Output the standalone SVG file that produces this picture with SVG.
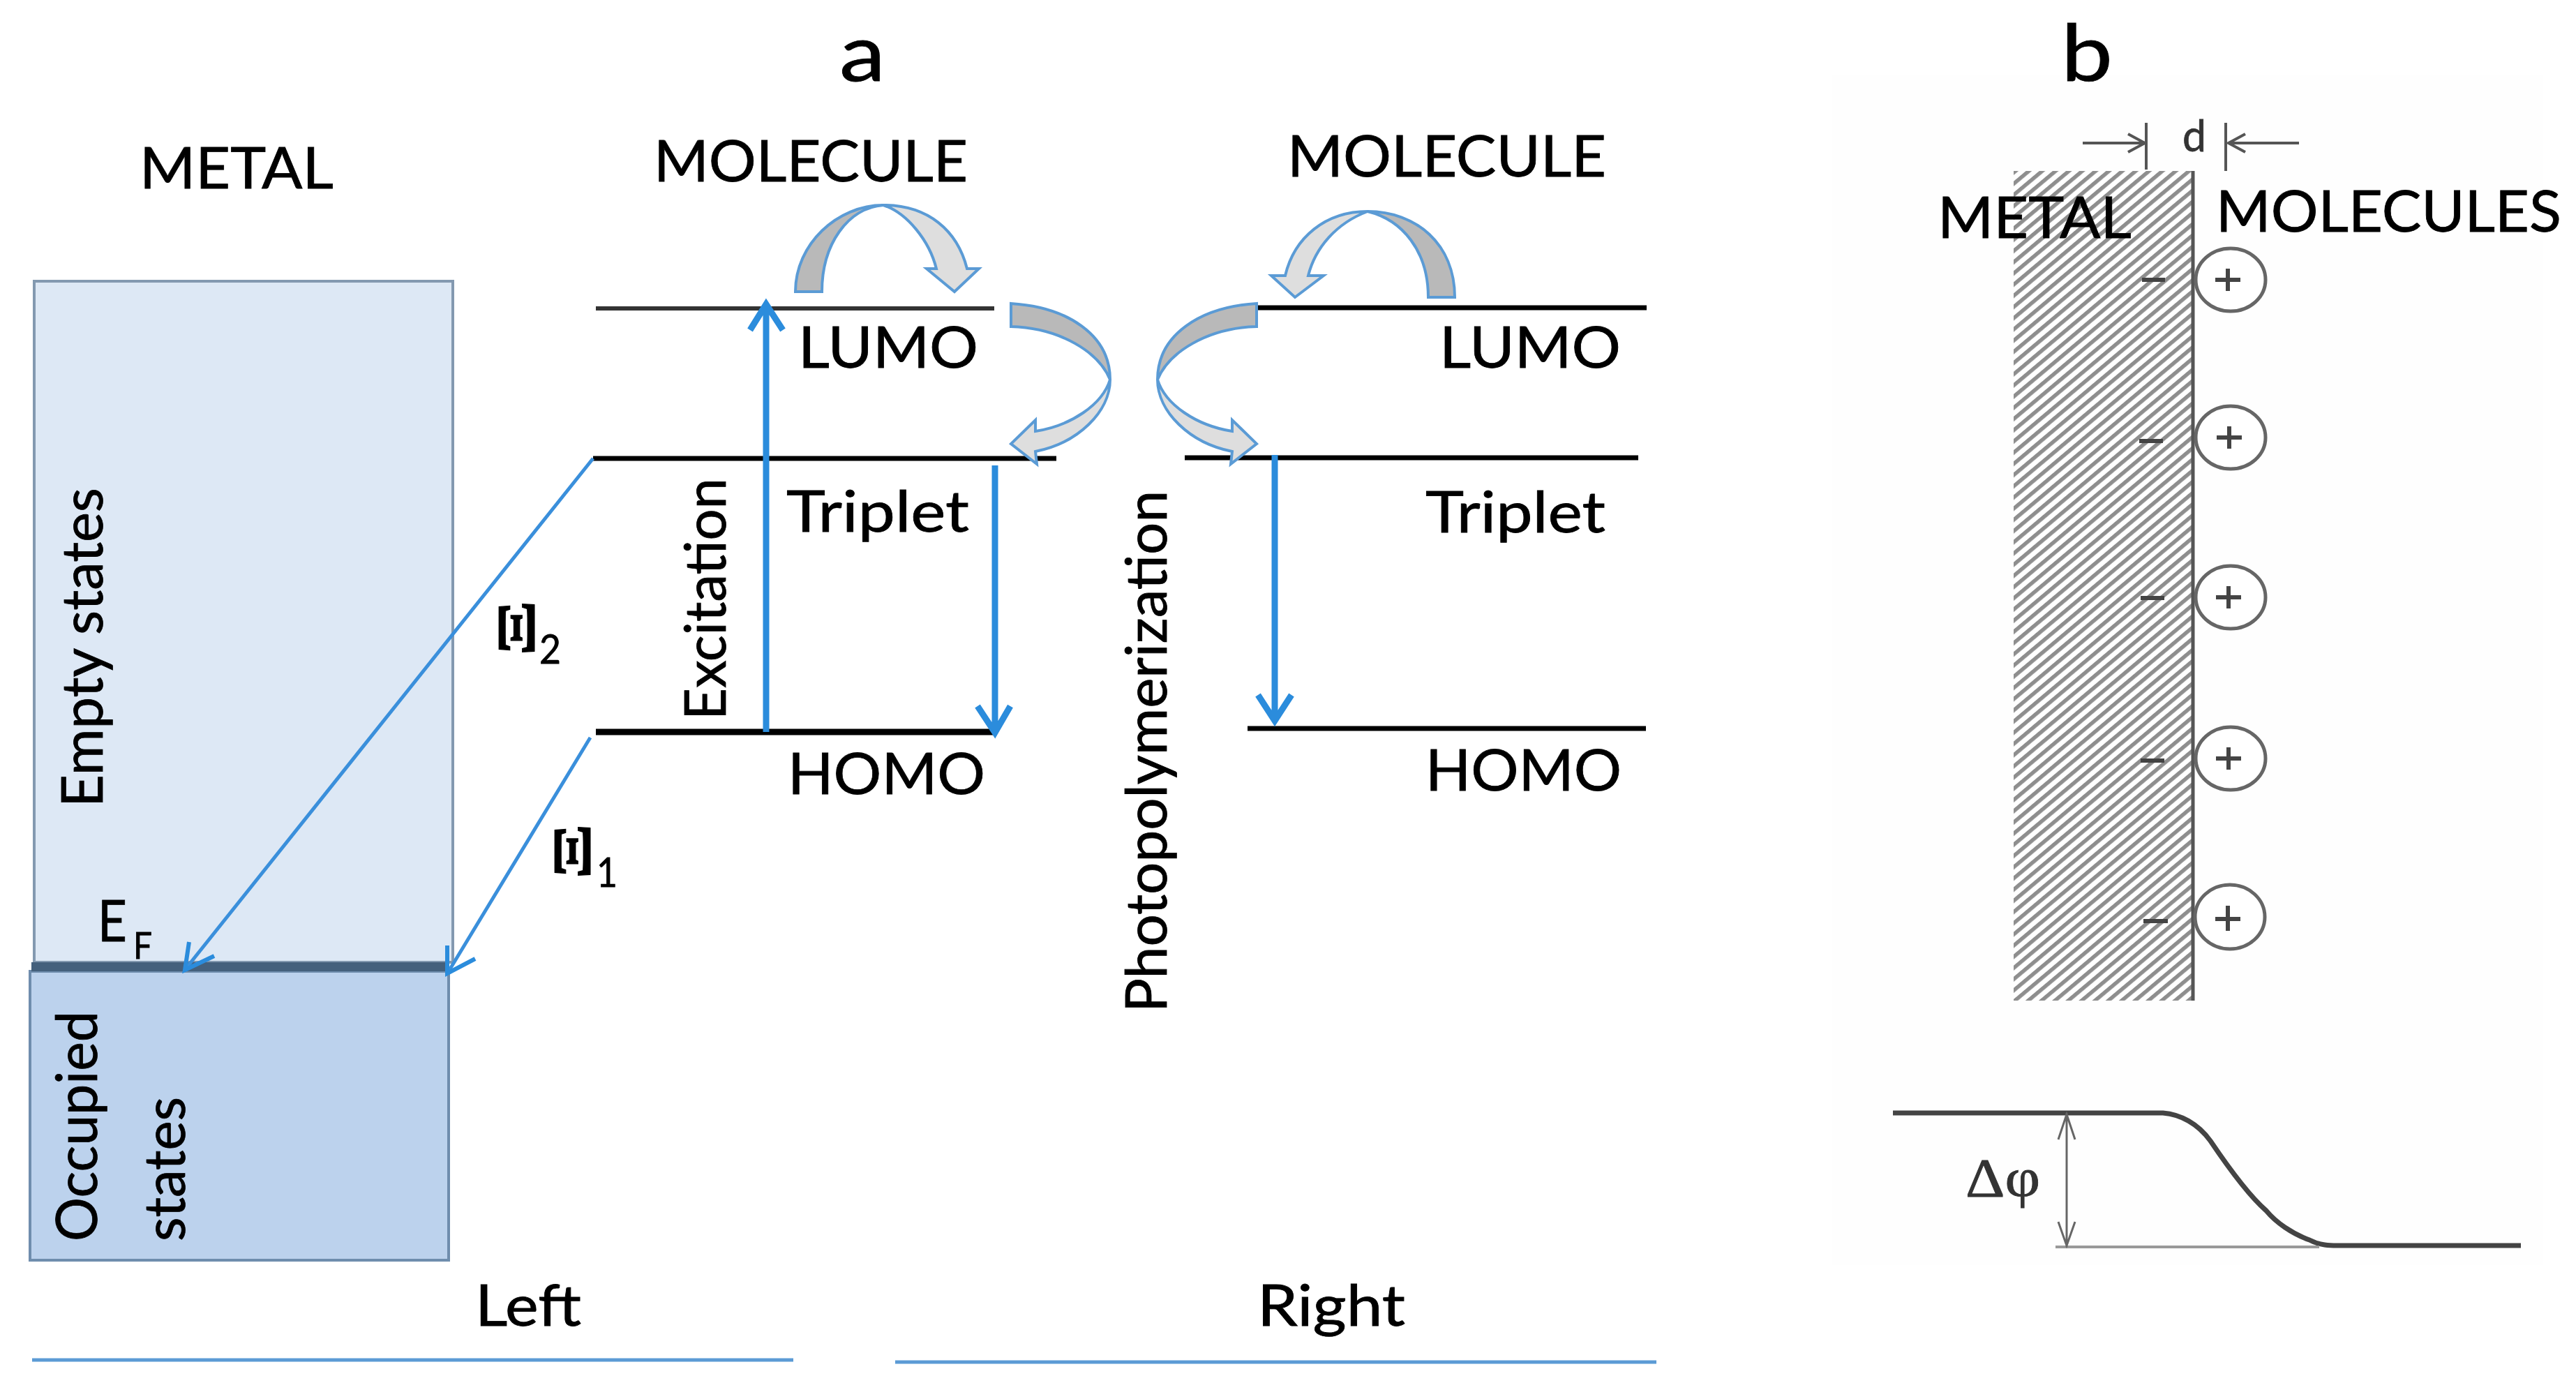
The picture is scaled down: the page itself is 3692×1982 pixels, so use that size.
<svg xmlns="http://www.w3.org/2000/svg" width="3692" height="1982" viewBox="0 0 3692 1982">
<style>
text{font-family:"Lato","Open Sans","Liberation Sans",sans-serif;fill:#000;stroke:#000;stroke-width:.8}
.lab{font-size:81px}
.serif{font-family:"Liberation Serif","DejaVu Serif",serif}
.lvl{stroke:#000;stroke-width:7;fill:none}
.thick{stroke:#2b8cdc;stroke-width:9;fill:none}
.thin{stroke:#3a8fdb;stroke-width:5;fill:none}
.head{stroke:#2b8cdc;stroke-width:9;fill:none;stroke-linejoin:miter}
.rule{stroke:#5b9bd5;stroke-width:5;fill:none}
.dark{fill:#b9b9b9;stroke:#5b9bd5;stroke-width:4;stroke-linejoin:miter}
.light{fill:#dedede;stroke:#5b9bd5;stroke-width:4;stroke-linejoin:miter}
.gline{stroke:#555;stroke-width:4;fill:none}
.ring{fill:#fff;stroke:#666;stroke-width:5}
.sign{stroke:#444;stroke-width:6;fill:none}
</style>
<defs>
<pattern id="hatch" width="12.3" height="12.3" patternUnits="userSpaceOnUse" patternTransform="rotate(-40)">
<rect width="12.3" height="12.3" fill="#fff"/>
<rect width="12.3" height="5.5" fill="#8e8e8e"/>
</pattern>
</defs>
<rect width="3692" height="1982" fill="#fff"/>
<rect x="2625" y="108" width="1020" height="1705" fill="#fefefe"/>

<g id="title-a"><text x="1203" y="116" font-size="112" textLength="66" lengthAdjust="spacingAndGlyphs">a</text></g>
<g id="title-b"><text x="2954" y="116" font-size="112" textLength="74" lengthAdjust="spacingAndGlyphs">b</text></g>

<g id="metal-left">
<rect x="49" y="403" width="600" height="976" fill="#dde8f5" stroke="#8399b0" stroke-width="4"/>
<rect x="43" y="1392" width="600" height="414" fill="#bcd2ed" stroke="#6f8dad" stroke-width="4"/>
<rect x="45" y="1379" width="593" height="13" fill="#44607c"/>
<text class="lab" x="200" y="270" textLength="278" lengthAdjust="spacingAndGlyphs">METAL</text>
<text class="lab" transform="translate(147,1157) rotate(-90)" textLength="458" lengthAdjust="spacingAndGlyphs">Empty states</text>
<text class="lab" transform="translate(139,1779) rotate(-90)" textLength="330" lengthAdjust="spacingAndGlyphs">Occupied</text>
<text class="lab" transform="translate(265,1779) rotate(-90)" textLength="207" lengthAdjust="spacingAndGlyphs">states</text>
<text class="lab" x="140" y="1349" textLength="42" lengthAdjust="spacingAndGlyphs">E</text>
<text x="191" y="1374" font-size="52" textLength="27" lengthAdjust="spacingAndGlyphs">F</text>
</g>

<g id="molecule-left">
<line class="lvl" x1="854" y1="442" x2="1425" y2="442" style="stroke:#333;stroke-width:6"/>
<line class="lvl" x1="850" y1="657" x2="1514" y2="657"/>
<line class="lvl" x1="854" y1="1049" x2="1424" y2="1049" style="stroke-width:9"/>
<text class="lab" x="937" y="260" textLength="450" lengthAdjust="spacingAndGlyphs">MOLECULE</text>
<text class="lab" x="1144" y="527" textLength="258" lengthAdjust="spacingAndGlyphs">LUMO</text>
<text class="lab" x="1127" y="762" textLength="262" lengthAdjust="spacingAndGlyphs">Triplet</text>
<text class="lab" x="1129" y="1138" textLength="283" lengthAdjust="spacingAndGlyphs">HOMO</text>
<text class="lab" transform="translate(1040,1032) rotate(-90)" textLength="347" lengthAdjust="spacingAndGlyphs">Excitation</text>
<text class="serif" font-size="78" font-weight="bold" transform="translate(846,1260) rotate(-90)" textLength="80" lengthAdjust="spacingAndGlyphs">Ξ</text>
<text x="855" y="1271" font-size="58" textLength="30" lengthAdjust="spacingAndGlyphs">1</text>
<text class="serif" font-size="78" font-weight="bold" transform="translate(766,940) rotate(-90)" textLength="80" lengthAdjust="spacingAndGlyphs">Ξ</text>
<text x="773" y="951" font-size="58" textLength="31" lengthAdjust="spacingAndGlyphs">2</text>
</g>

<g id="molecule-right">
<line class="lvl" x1="1800" y1="441" x2="2360" y2="441"/>
<line class="lvl" x1="1698" y1="656" x2="2348" y2="656"/>
<line class="lvl" x1="1788" y1="1044" x2="2359" y2="1044"/>
<text class="lab" x="1845" y="253" textLength="457" lengthAdjust="spacingAndGlyphs">MOLECULE</text>
<text class="lab" x="2063" y="527" textLength="260" lengthAdjust="spacingAndGlyphs">LUMO</text>
<text class="lab" x="2043" y="763" textLength="258" lengthAdjust="spacingAndGlyphs">Triplet</text>
<text class="lab" x="2043" y="1133" textLength="281" lengthAdjust="spacingAndGlyphs">HOMO</text>
<text class="lab" transform="translate(1672,1451) rotate(-90)" textLength="748" lengthAdjust="spacingAndGlyphs">Photopolymerization</text>
</g>

<g id="side-labels">
<text class="lab" x="681" y="1900" textLength="152" lengthAdjust="spacingAndGlyphs">Left</text>
<text class="lab" x="1802" y="1900" textLength="212" lengthAdjust="spacingAndGlyphs">Right</text>
<line class="rule" x1="46" y1="1949" x2="1137" y2="1949"/>
<line class="rule" x1="1283" y1="1952" x2="2374" y2="1952"/>
</g>

<g id="panel-b">
<rect x="2886" y="245" width="257" height="1189" fill="url(#hatch)"/>
<line x1="3143" y1="245" x2="3143" y2="1434" stroke="#555" stroke-width="5"/>
<text class="lab" x="2777" y="341" textLength="278" lengthAdjust="spacingAndGlyphs">METAL</text>
<text class="lab" x="3176" y="332" textLength="495" lengthAdjust="spacingAndGlyphs">MOLECULES</text>
<text x="3128" y="217" font-size="62" style="fill:#333;stroke:#333" textLength="34" lengthAdjust="spacingAndGlyphs">d</text>
<path class="gline" d="M3076,176V243M3190,176V245M2985,205H3072M3050,192L3074,205L3050,218M3295,205H3194M3218,192L3194,205L3218,218"/>
<g id="charge-1"><ellipse class="ring" cx="3197" cy="401" rx="50" ry="45"/><path class="sign" d="M3193,385V417M3175,401H3211M3070,401H3103"/></g>
<g id="charge-2"><ellipse class="ring" cx="3197" cy="627" rx="50" ry="45"/><path class="sign" d="M3195,611V643M3177,627H3213M3066,632H3100"/></g>
<g id="charge-3"><ellipse class="ring" cx="3197" cy="856" rx="50" ry="45"/><path class="sign" d="M3194,840V872M3176,856H3212M3068,857H3102"/></g>
<g id="charge-4"><ellipse class="ring" cx="3197" cy="1087" rx="50" ry="45"/><path class="sign" d="M3194,1071V1103M3176,1087H3212M3068,1090H3102"/></g>
<g id="charge-5"><ellipse class="ring" cx="3196" cy="1314" rx="50" ry="46"/><path class="sign" d="M3193,1298V1334M3175,1317H3211M3072,1320H3107"/></g>
<path d="M2713,1595H3100C3125,1597 3150,1610 3168,1635C3195,1675 3225,1715 3248,1735C3262,1752 3285,1768 3310,1777C3325,1785 3340,1785 3350,1785H3613" fill="none" stroke="#444" stroke-width="7"/>
<line x1="2946" y1="1787" x2="3324" y2="1787" stroke="#999" stroke-width="4"/>
<path d="M2962,1595V1787M2950,1633L2962,1597L2974,1633M2950,1751L2962,1785L2974,1751" fill="none" stroke="#666" stroke-width="3"/>
<text class="serif" x="2817" y="1714" font-size="78" style="fill:#333;stroke:#333" textLength="107" lengthAdjust="spacingAndGlyphs">Δφ</text>
</g>

<g id="connectors">
<path class="thick" d="M1098,1049V436M1075,473L1098,436L1122,473"/>
<path class="thick" d="M1426,667V1048M1401,1012L1426,1050L1448,1012"/>
<path class="thick" d="M1827,652V1030M1803,996L1827,1033L1851,996"/>
<path class="thin" d="M850,657L268,1386"/>
<path class="head" style="stroke-width:6" d="M271,1350L265,1390L307,1370"/>
<path class="thin" d="M846,1057L643,1392"/>
<path class="head" style="stroke-width:6" d="M641,1355L641,1395L681,1374"/>
<path class="dark" d="M1140,418C1140,350 1200,294 1266,294C1215,298 1178,350 1178,418Z"/>
<path class="light" d="M1266,294C1330,294 1372,330 1386,385L1403,385L1368,418L1328,385L1342,385C1332,345 1300,305 1266,294Z"/>
<path class="dark" d="M1449,435C1530,440 1591,480 1591,544C1575,505 1520,470 1449,468Z"/>
<path class="light" d="M1591,544C1591,590 1545,635 1484,647L1486,665L1449,636L1484,602L1484,618C1535,610 1580,580 1591,544Z"/>
<path class="dark" d="M1801,435C1720,440 1659,480 1659,544C1675,505 1730,470 1801,468Z"/>
<path class="light" d="M1659,544C1659,590 1705,635 1766,647L1764,665L1801,636L1766,602L1766,618C1715,610 1670,580 1659,544Z"/>
<path class="dark" d="M2085,426C2085,350 2030,303 1960,303C2010,315 2047,360 2047,426Z"/>
<path class="light" d="M1960,303C1900,303 1855,340 1842,395L1822,395L1856,426L1897,395L1875,395C1885,355 1915,320 1960,303Z"/>
</g>
</svg>
